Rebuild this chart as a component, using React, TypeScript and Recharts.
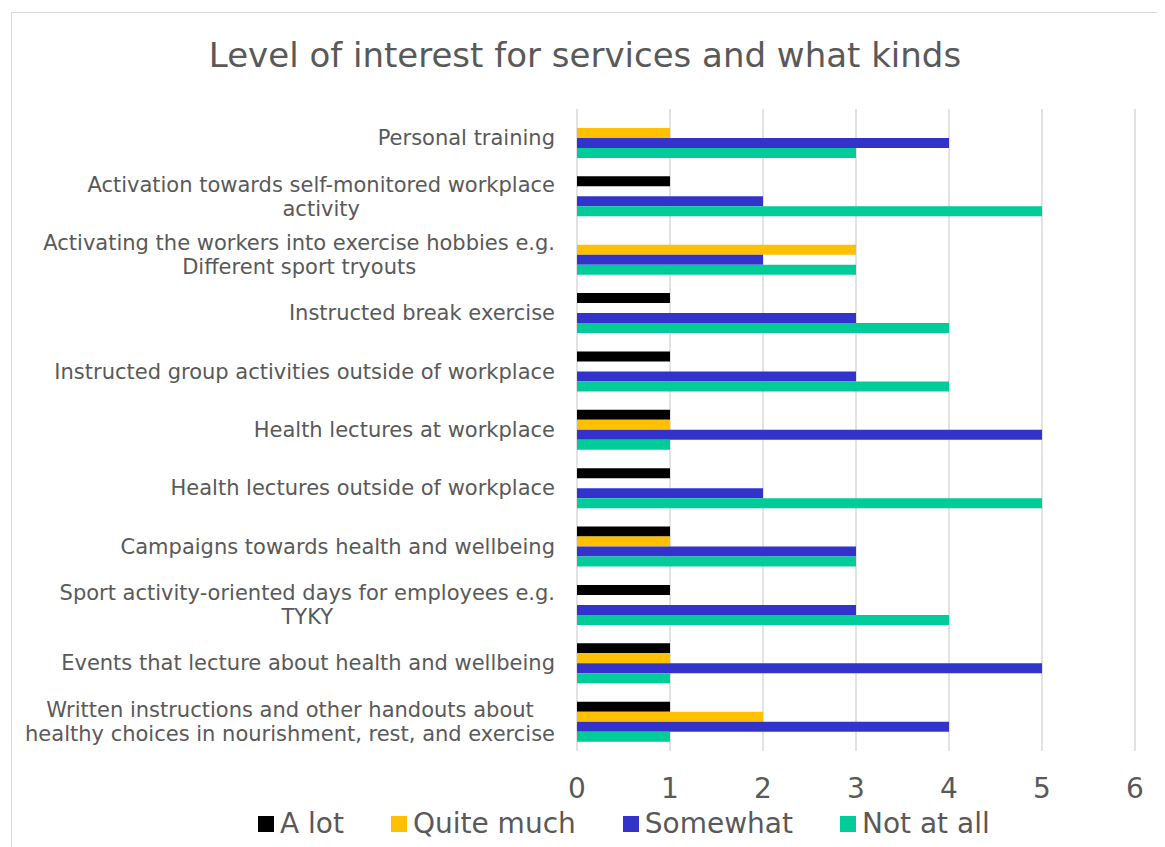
import React from "react";
import {Bar, BarChart, CartesianGrid, Legend, XAxis, YAxis} from "recharts";

const categories = [
  "Personal training",
  "Activation towards self-monitored workplace\nactivity",
  "Activating the workers into exercise hobbies e.g.\nDifferent sport tryouts",
  "Instructed break exercise",
  "Instructed group activities outside of workplace",
  "Health lectures at workplace",
  "Health lectures outside of workplace",
  "Campaigns towards health and wellbeing",
  "Sport activity-oriented days for employees e.g.\nTYKY",
  "Events that lecture about health and wellbeing",
  "Written instructions and other handouts about\nhealthy choices in nourishment, rest, and exercise",
];

const aLot = [0, 1, 0, 1, 1, 1, 1, 1, 1, 1, 1];
const quiteMuch = [1, 0, 3, 0, 0, 1, 0, 1, 0, 1, 2];
const somewhat = [4, 2, 2, 3, 3, 5, 2, 3, 3, 5, 4];
const notAtAll = [3, 5, 3, 4, 4, 1, 5, 3, 4, 1, 1];

const xTicks = [0, 1, 2, 3, 4, 5, 6];

const series = [
  {key: "aLot", name: "A lot", color: "#000000"},
  {key: "quiteMuch", name: "Quite much", color: "#FFC000"},
  {key: "somewhat", name: "Somewhat", color: "#3333CC"},
  {key: "notAtAll", name: "Not at all", color: "#00CC99"},
];

const data = categories.map((name, i) => ({
  name,
  aLot: aLot[i],
  quiteMuch: quiteMuch[i],
  somewhat: somewhat[i],
  notAtAll: notAtAll[i],
}));

const FONT = "'DejaVu Sans', Verdana, sans-serif";
const TEXT = "#595959";

let ctx: CanvasRenderingContext2D | null = null;
const measure = (s: string, size: number) => {
  if (!ctx) ctx = document.createElement("canvas").getContext("2d");
  if (!ctx) return s.length * size * 0.55;
  ctx.font = `${size}px 'DejaVu Sans'`;
  return ctx.measureText(s).width;
};

const CategoryTick = (props: any) => {
  const {x, y, payload} = props;
  const lines: string[] = String(payload.value).split("\n");
  const size = 21;
  const lineH = 24;
  const blockW = Math.max(...lines.map((l) => measure(l, size)));
  const cx = x - blockW / 2;
  const start = y - ((lines.length - 1) * lineH) / 2;
  return (
    <g>
      {lines.map((l, i) => (
        <text
          key={i}
          x={cx}
          y={start + i * lineH}
          textAnchor="middle"
          dominantBaseline="central"
          fontSize={size}
          fontFamily={FONT}
          fill={TEXT}
        >
          {l}
        </text>
      ))}
    </g>
  );
};

const ValueTick = (props: any) => {
  const {x, y, payload} = props;
  return (
    <text x={x} y={y + 47} textAnchor="middle" fontSize={28} fontFamily={FONT} fill={TEXT}>
      {payload.value}
    </text>
  );
};

// keep series order (recharts sorts legend items by default)
const LegendBox = () => {
  return (
    <div style={{height: 42, display: "flex", alignItems: "flex-end", paddingLeft: 246, gap: 47}}>
      {series.map((s) => (
        <div key={s.key} style={{display: "flex", alignItems: "center", height: 28}}>
          <span style={{width: 16, height: 16, background: s.color, marginRight: 6, display: "inline-block"}}/>
          <span style={{fontSize: 28, lineHeight: "28px", fontFamily: FONT, color: TEXT}}>{s.name}</span>
        </div>
      ))}
    </div>
  );
};

const App: React.FC = () => {
  return (
    <div
      style={{
        position: "relative",
        marginLeft: 3,
        marginTop: 4,
        width: 1146,
        height: 840,
        border: "1px solid #d9d9d9",
        background: "#fff",
      }}
    >
      <div
        style={{
          position: "absolute",
          top: 22,
          left: 0,
          width: 1146,
          textAlign: "center",
          fontSize: 34,
          lineHeight: "40px",
          fontFamily: FONT,
          color: TEXT,
        }}
      >
        Level of interest for services and what kinds
      </div>
      <BarChart
        width={1146}
        height={825}
        data={data}
        layout="vertical"
        margin={{top: 96, right: 23, left: 0, bottom: 0}}
        barSize={10}
        barGap={0}
      >
        <CartesianGrid horizontal={false} stroke="#d9d9d9" strokeWidth={1.5}/>
        <XAxis
          type="number"
          domain={[0, 6]}
          ticks={xTicks}
          interval={0}
          axisLine={false}
          tickLine={false}
          tickSize={0}
          tickMargin={0}
          height={45}
          tick={<ValueTick/>}
        />
        <YAxis
          type="category"
          dataKey="name"
          width={565}
          interval={0}
          axisLine={false}
          tickLine={false}
          tickSize={0}
          tickMargin={22}
          tick={<CategoryTick/>}
        />
        <Legend content={<LegendBox/>} height={42}/>
        {series.map((s) => (
          <Bar key={s.key} dataKey={s.key} name={s.name} fill={s.color} isAnimationActive={false}/>
        ))}
      </BarChart>
    </div>
  );
};

export default App;
